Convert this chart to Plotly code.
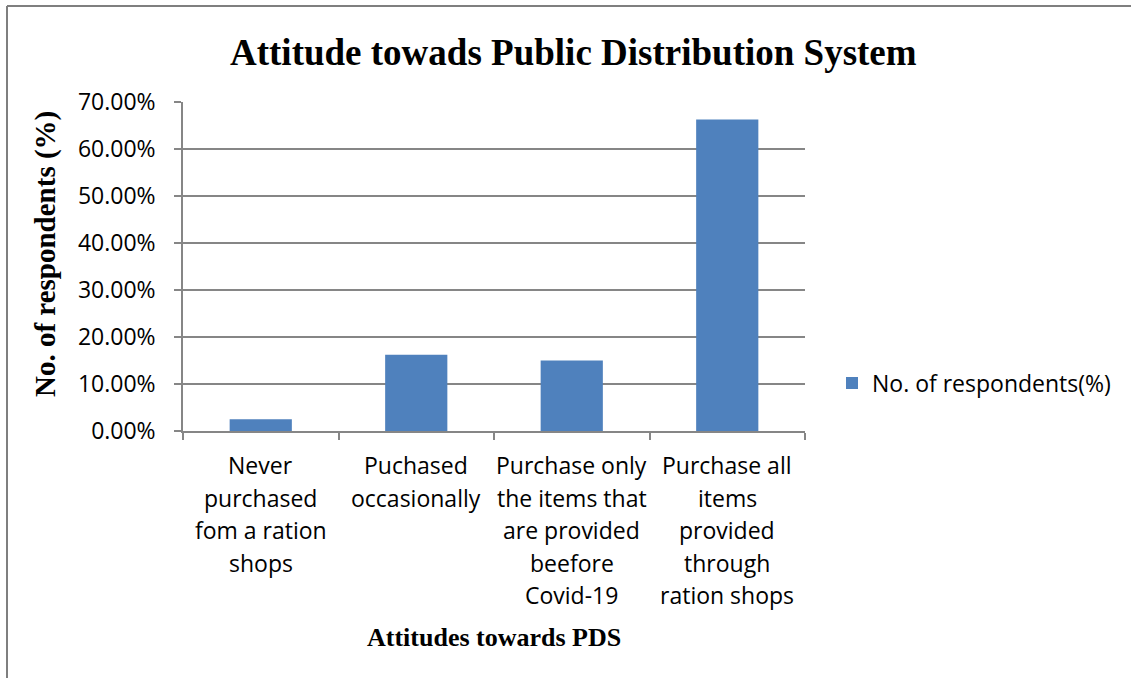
import plotly.graph_objects as go

categories = [
    "Never purchased fom a ration shops",
    "Puchased occasionally",
    "Purchase only the items that are provided beefore Covid-19",
    "Purchase all items provided through ration shops",
]
label_lines = [
    ["Never", "purchased", "fom a ration", "shops"],
    ["Puchased", "occasionally"],
    ["Purchase only", "the items that", "are provided", "beefore", "Covid-19"],
    ["Purchase all", "items", "provided", "through", "ration shops"],
]
values = [0.025, 0.162, 0.150, 0.663]
y_ticks = [0.0, 0.1, 0.2, 0.3, 0.4, 0.5, 0.6, 0.7]
y_tick_text = ["0.00%", "10.00%", "20.00%", "30.00%", "40.00%", "50.00%", "60.00%", "70.00%"]

W, H = 1131, 678
L, R, T, B = 183, 805, 102, 431  # plot area in pixels
pw, ph = R - L, B - T

def px_x(p):
    return (p - L) / pw

def px_y(p):
    return (B - p) / ph

SANS = "Open Sans"
SERIF = "Liberation Serif"
GRID = "#868686"
FS = 23

fig = go.Figure()
fig.add_trace(go.Bar(
    x=categories, y=values, name="No. of respondents(%)",
    marker=dict(color="#4F81BD", line=dict(width=0)),
))

annotations = []
for cat, lines in zip(categories, label_lines):
    for k, line in enumerate(lines):
        annotations.append(dict(
            x=cat, xref="x", y=0, yref="paper", text=line, showarrow=False,
            xanchor="center", yanchor="middle", yshift=-(34 + 32.5 * k),
            font=dict(family=SANS, size=FS, color="#000000"),
        ))

annotations.append(dict(
    x=px_x(494), xref="paper", y=0, yref="paper", yshift=-(637 - B),
    text="<b>Attitudes towards PDS</b>", showarrow=False,
    xanchor="center", yanchor="middle",
    font=dict(family=SERIF, size=26, color="#000000"),
))
annotations.append(dict(
    x=px_x(46), xref="paper", y=px_y(254), yref="paper",
    text="<b>No. of respondents (%)</b>", showarrow=False, textangle=-90,
    xanchor="center", yanchor="middle",
    font=dict(family=SERIF, size=29, color="#000000"),
))
annotations.append(dict(
    x=px_x(573), xref="paper", y=px_y(52), yref="paper",
    text="<b>Attitude towads Public Distribution System</b>", showarrow=False,
    xanchor="center", yanchor="middle",
    font=dict(family=SERIF, size=37, color="#000000"),
))

shapes = [
    dict(type="line", xref="paper", yref="paper",
         x0=px_x(7), x1=px_x(1140), y0=px_y(6), y1=px_y(6),
         line=dict(color="#7f7f7f", width=2)),
    dict(type="line", xref="paper", yref="paper",
         x0=px_x(7), x1=px_x(7), y0=px_y(6), y1=px_y(690),
         line=dict(color="#7f7f7f", width=2)),
]

fig.update_layout(
    width=W, height=H,
    margin=dict(l=L, r=W - R, t=T, b=H - B, pad=0),
    paper_bgcolor="white", plot_bgcolor="white",
    bargap=0.6,
    showlegend=True,
    legend=dict(x=px_x(832), y=px_y(383), xanchor="left", yanchor="middle",
                font=dict(family=SANS, size=FS, color="#000000"),
                bgcolor="rgba(0,0,0,0)", itemsizing="constant", itemwidth=30),
    annotations=annotations,
    shapes=shapes,
    xaxis=dict(
        type="category", showticklabels=False, showgrid=False,
        showline=True, linecolor=GRID, linewidth=1.5,
        ticks="outside", tickson="boundaries", ticklen=7, tickcolor=GRID, tickwidth=1.5,
        range=[-0.5, 3.5],
    ),
    yaxis=dict(
        range=[0, 0.7], tickvals=y_ticks, ticktext=y_tick_text,
        showgrid=True, gridcolor=GRID, gridwidth=1.5,
        showline=True, linecolor=GRID, linewidth=1.5,
        ticks="outside", ticklen=7, tickcolor=GRID, tickwidth=1.5,
        ticklabelstandoff=14,
        tickfont=dict(family=SANS, size=FS, color="#000000"),
        zeroline=False,
    ),
)

fig.write_html("out.html")
